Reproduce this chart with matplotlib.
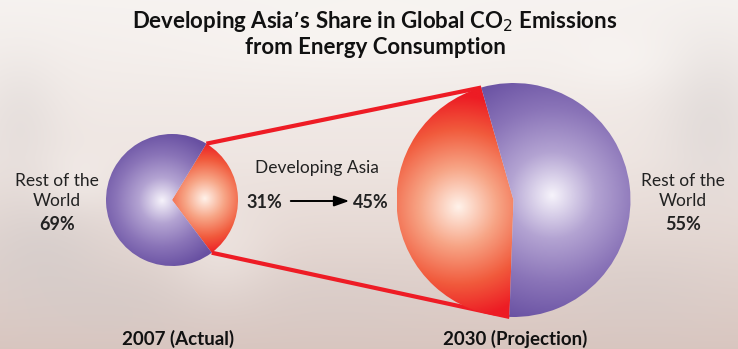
import numpy as np
import matplotlib
matplotlib.use("Agg")
import matplotlib.pyplot as plt
from matplotlib.colors import LinearSegmentedColormap

# ---------------- data ----------------
years = ["2007 (Actual)", "2030 (Projection)"]
asia_share = [31, 45]
rest_share = [69, 55]
rest_label = "Rest of the\nWorld"
asia_label = "Developing Asia"
title_line1 = r"Developing Asia’s Share in Global CO$_2$ Emissions"
title_line2 = "from Energy Consumption"

W, H = 738, 349
fig = plt.figure(figsize=(W / 100, H / 100), dpi=100)
ax = fig.add_axes([0, 0, 1, 1])
ax.set_xlim(0, W)
ax.set_ylim(0, H)
ax.axis("off")

# ---------------- background (soft cloudy sky) ----------------
yy, xx = np.mgrid[0:H, 0:W]
yf = yy / H  # 0 top -> 1 bottom
top = np.array([0.965, 0.95, 0.94])
mid = np.array([0.935, 0.9, 0.885])
bot = np.array([0.85, 0.775, 0.75])
t = yf[..., None]
bg = np.where(t < 0.45, top + (mid - top) * (t / 0.45), mid + (bot - mid) * ((t - 0.45) / 0.55))
grey = np.array([0.80, 0.78, 0.78])
for cx, cy, sx, sy, a in [(40, 250, 70, 60, 0.45), (120, 300, 90, 40, 0.3), (710, 120, 50, 80, 0.35),
                          (640, 290, 90, 50, 0.25), (330, 300, 120, 40, 0.2), (20, 120, 40, 60, 0.25)]:
    g = np.exp(-(((xx - cx) / sx) ** 2 + ((yy - cy) / sy) ** 2))[..., None] * a
    bg = bg * (1 - g) + grey * g
for cx, cy, sx, sy, a in [(220, 250, 50, 50, 0.3), (80, 180, 40, 30, 0.3), (620, 60, 60, 30, 0.35),
                          (370, 40, 200, 40, 0.4)]:
    g = np.exp(-(((xx - cx) / sx) ** 2 + ((yy - cy) / sy) ** 2))[..., None] * a
    bg = bg * (1 - g) + np.array([0.99, 0.98, 0.97]) * g
ax.imshow(np.clip(bg, 0, 1), extent=[0, W, 0, H], origin="upper", zorder=0, aspect="auto")

# ---------------- pies ----------------
centers = [(172, 149), (513.5, 149)]
radii = [66, 117]
startangles = [-53, 106]
red_cmap = LinearSegmentedColormap.from_list("r", [(0, "#fff2ea"), (0.35, "#f7a586"),
                                                   (0.7, "#f15a3c"), (1, "#ed1c24")])
pur_cmap = LinearSegmentedColormap.from_list("p", ["#f6f3fb", "#b3a3d2", "#8a74b8", "#6850a2"])
hl_offsets = [(0.5, 0.15), (0.48, 0.33)]  # highlight offset (fraction of r) for asia, rest
grad_scale = [(0.85, 1.05), (0.95, 1.12)]  # gradient reach (fraction of r) for asia, rest

red_pts = []
for i in range(2):
    cx, cy = centers[i]
    r = radii[i]
    wedges, _ = ax.pie([asia_share[i], rest_share[i]], center=(cx, cy), radius=r,
                       startangle=startangles[i], counterclock=True, frame=True,
                       wedgeprops=dict(linewidth=0, alpha=0))
    for j, (w, cmap) in enumerate(zip(wedges, [red_cmap, pur_cmap])):
        midang = np.deg2rad((w.theta1 + w.theta2) / 2)
        k = hl_offsets[i][j]
        hx, hy = cx + k * r * np.cos(midang), cy + k * r * np.sin(midang)
        n = 400
        gx, gy = np.meshgrid(np.linspace(cx - r, cx + r, n), np.linspace(cy + r, cy - r, n))
        d = np.hypot(gx - hx, gy - hy) / (r * grad_scale[i][j])
        im = ax.imshow(np.clip(d, 0, 1), cmap=cmap, vmin=0, vmax=1,
                       extent=[cx - r, cx + r, cy - r, cy + r], origin="upper",
                       zorder=2, interpolation="bilinear")
        w.set_alpha(1)
        w.set_facecolor("none")
        im.set_clip_path(w)
    wr = wedges[0]
    pts = [(cx + r * np.cos(np.deg2rad(a)), cy + r * np.sin(np.deg2rad(a)))
           for a in (wr.theta1, wr.theta2)]
    pts.sort(key=lambda p: -p[1])  # top point first
    red_pts.append(pts)

ax.set_xlim(0, W)
ax.set_ylim(0, H)
ax.set_aspect("auto")

# connecting red lines
for k in range(2):
    (x0, y0), (x1, y1) = red_pts[0][k], red_pts[1][k]
    ax.plot([x0, x1], [y0, y1], color="#ee1c25", lw=3.0, solid_capstyle="butt", zorder=1)

# ---------------- text ----------------
tfam = ["Lato", "DejaVu Sans"]
ax.text(W / 2 + 6, H - 21, title_line1, ha="center", va="center", fontsize=16,
        fontweight="bold", family=tfam, color="#111111", zorder=5)
ax.text(W / 2 + 6, H - 47, title_line2, ha="center", va="center", fontsize=16,
        fontweight="bold", family=tfam, color="#111111", zorder=5)

for xc, share in [(57, rest_share[0]), (683, rest_share[1])]:
    ax.text(xc, H - 191, rest_label, ha="center", va="center", fontsize=12.5,
            family=tfam, color="#222222", linespacing=1.25, zorder=5)
    ax.text(xc, H - 224, f"{share}%", ha="center", va="center", fontsize=13,
            fontweight="bold", family=tfam, color="#222222", zorder=5)

ax.text(317, H - 168, asia_label, ha="center", va="center", fontsize=12.5,
        family=tfam, color="#222222", zorder=5)
ax.text(264, H - 202, f"{asia_share[0]}%", ha="center", va="center", fontsize=13,
        fontweight="bold", family=tfam, color="#222222", zorder=5)
ax.text(371, H - 202, f"{asia_share[1]}%", ha="center", va="center", fontsize=13,
        fontweight="bold", family=tfam, color="#222222", zorder=5)
ax.annotate("", xy=(352, H - 201), xytext=(288, H - 201),
            arrowprops=dict(arrowstyle="-|>,head_length=0.9,head_width=0.32", color="black", lw=1.4),
            zorder=5)

for xc, lab in [(178, years[0]), (515, years[1])]:
    ax.text(xc, H - 339, lab, ha="center", va="center", fontsize=13.5,
            fontweight="bold", family=tfam, color="#111111", zorder=5)

fig.savefig("out.png", dpi=100)
